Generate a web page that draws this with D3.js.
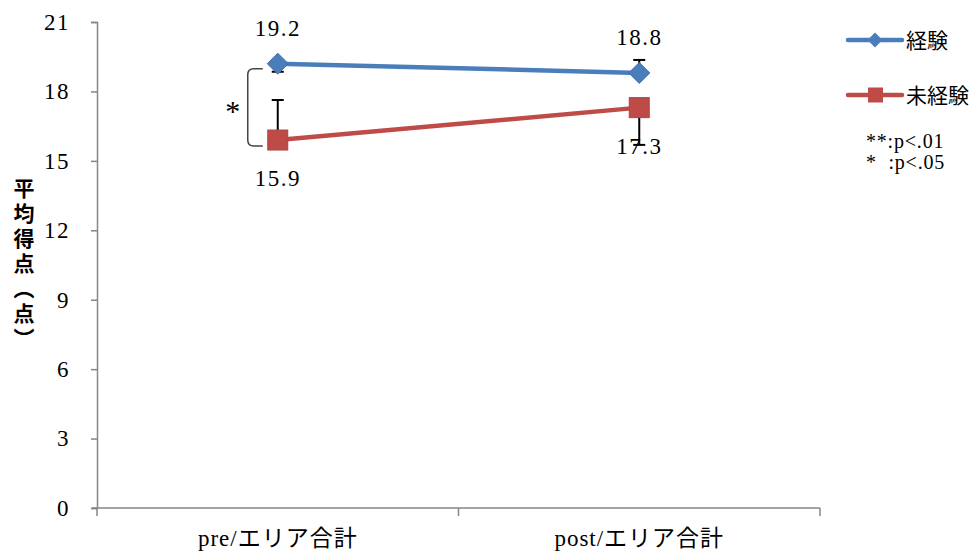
<!DOCTYPE html>
<html><head><meta charset="utf-8">
<script src="https://cdn.jsdelivr.net/npm/d3@7"></script>
<style>body{margin:0;background:#fff}</style>
</head><body>
<svg id="c" width="979" height="554"></svg>
<script>
const categories = ["pre/エリア合計", "post/エリア合計"];
const seriesNames = ["経験", "未経験"];
const experienced = [19.2, 18.8];
const inexperienced = [15.9, 17.3];
// error bar end values (as drawn)
const experiencedErrEnd = [18.85, 19.36];
const inexperiencedErrEnd = [17.63, 15.69];
const yTicks = [0, 3, 6, 9, 12, 15, 18, 21];
const sigNotes = ["**:p<.01", "*  :p<.05"];

(function () {
const svg = d3.select("#c");
const serif = "'Liberation Serif', 'DejaVu Serif', serif";
const jp = "'Liberation Serif', 'Noto Sans CJK JP', serif";
const mLeft = 97, mRight = 820, mTop = 22, mBottom = 508;
const x = d3.scaleBand().domain(categories).range([mLeft, mRight]);
const y = d3.scaleLinear().domain([0, 21]).range([mBottom, mTop]);
const cx = d => x(d) + x.bandwidth() / 2;
const axisColor = "#868686";

// Y axis
const ya = svg.append("g").attr("transform", `translate(${mLeft},0)`)
  .call(d3.axisLeft(y).tickValues(yTicks).tickSize(6).tickPadding(21));
ya.select(".domain").attr("stroke", axisColor).attr("stroke-width", 1.5);
ya.selectAll(".tick line").attr("stroke", axisColor).attr("stroke-width", 1.5);
ya.selectAll(".tick text").attr("font-family", serif).attr("font-size", 23).attr("fill", "#000")
  .attr("letter-spacing", 1.5);

// X axis
const xa = svg.append("g").attr("transform", `translate(0,${mBottom})`)
  .call(d3.axisBottom(x).tickSize(0).tickPadding(22));
xa.select(".domain").attr("stroke", axisColor).attr("stroke-width", 1.5).attr("d", `M${mLeft-5},0H${mRight}`);
xa.selectAll(".tick text").attr("font-family", jp).attr("font-size", 23).attr("letter-spacing", 1).attr("fill", "#000");
const bounds = [mLeft, x(categories[1]), mRight];
xa.selectAll(".bt").data(bounds).enter().append("line")
  .attr("x1", d => d).attr("x2", d => d).attr("y1", 0).attr("y2", 8)
  .attr("stroke", axisColor).attr("stroke-width", 1.5);

// Y title (vertical)
svg.append("text").attr("x", 24).attr("y", 178)
  .attr("font-family", "'Noto Sans CJK JP', sans-serif").attr("font-weight", "bold")
  .attr("font-size", 21).attr("letter-spacing", 4)
  .style("writing-mode", "vertical-rl").style("text-orientation", "upright")
  .text("平均得点（点）");

// Error bars
function errBars(vals, ends) {
  const g = svg.append("g");
  vals.forEach((v, i) => {
    const px = cx(categories[i]);
    g.append("line").attr("x1", px).attr("x2", px).attr("y1", y(v)).attr("y2", y(ends[i]))
      .attr("stroke", "#000").attr("stroke-width", 2);
    g.append("line").attr("x1", px - 6).attr("x2", px + 6).attr("y1", y(ends[i])).attr("y2", y(ends[i]))
      .attr("stroke", "#000").attr("stroke-width", 2);
  });
}
errBars(experienced, experiencedErrEnd);
errBars(inexperienced, inexperiencedErrEnd);

const line = d3.line().x((d, i) => cx(categories[i])).y(d => y(d));
const blue = "#4A7EBB", red = "#BE4B48";

// Lines
svg.append("path").datum(experienced).attr("d", line).attr("fill", "none").attr("stroke", blue).attr("stroke-width", 4.5);
svg.append("path").datum(inexperienced).attr("d", line).attr("fill", "none").attr("stroke", red).attr("stroke-width", 4.5);

// Markers
const diamond = (px, py, r) => `M${px},${py-r}L${px+r},${py}L${px},${py+r}L${px-r},${py}Z`;
experienced.forEach((v, i) => {
  svg.append("path").attr("d", diamond(cx(categories[i]), y(v), 10.5)).attr("fill", blue).attr("stroke", "#3F6FA8").attr("stroke-width", 1);
});
inexperienced.forEach((v, i) => {
  svg.append("rect").attr("x", cx(categories[i]) - 10).attr("y", y(v) - 10).attr("width", 20).attr("height", 20)
    .attr("fill", red).attr("stroke", "#B04542").attr("stroke-width", 1);
});

// Data labels
const lblSize = 23;
experienced.forEach((v, i) => {
  svg.append("text").attr("x", cx(categories[i])).attr("y", y(v) - 36).attr("dy", "0.35em")
    .attr("text-anchor", "middle").attr("font-family", serif).attr("font-size", lblSize).attr("letter-spacing", 1.5).text(v.toFixed(1));
});
inexperienced.forEach((v, i) => {
  svg.append("text").attr("x", cx(categories[i])).attr("y", y(v) + 38).attr("dy", "0.35em")
    .attr("text-anchor", "middle").attr("font-family", serif).attr("font-size", lblSize).attr("letter-spacing", 1.5).text(v.toFixed(1));
});

// Significance bracket
const bx = cx(categories[0]) - 30, bTop = y(experienced[0]) + 5, bBot = y(inexperienced[0]) + 6, bEnd = cx(categories[0]) - 15;
svg.append("path")
  .attr("d", `M${bEnd},${bTop}H${bx+6}Q${bx},${bTop} ${bx},${bTop+6}V${bBot-6}Q${bx},${bBot} ${bx+6},${bBot}H${bEnd}`)
  .attr("fill", "none").attr("stroke", "#444").attr("stroke-width", 1.5);
svg.append("text").attr("x", bx - 15).attr("y", (bTop + bBot) / 2 + 14).attr("text-anchor", "middle")
  .attr("font-family", serif).attr("font-size", 30).text("*");

// Legend
const lg = svg.append("g");
const legendY = [40, 95];
seriesNames.forEach((n, i) => {
  const ly = legendY[i], col = i === 0 ? blue : red;
  lg.append("line").attr("x1", 848).attr("x2", 902).attr("y1", ly).attr("y2", ly)
    .attr("stroke", col).attr("stroke-width", 4.5).attr("stroke-linecap", "round");
  if (i === 0) lg.append("path").attr("d", diamond(875, ly, 7.5)).attr("fill", col);
  else lg.append("rect").attr("x", 868).attr("y", ly - 7.5).attr("width", 15).attr("height", 15).attr("fill", col);
  lg.append("text").attr("x", 906).attr("y", ly).attr("dy", "0.36em")
    .attr("font-family", "'Noto Sans CJK JP', sans-serif").attr("font-size", 21).text(n);
});
sigNotes.forEach((t, i) => {
  svg.append("text").attr("x", 866).attr("y", 148 + i * 21).attr("font-family", serif)
    .attr("font-size", 20).attr("letter-spacing", 0.8).attr("xml:space", "preserve").style("white-space", "pre").text(t);
});
})();
</script>
</body></html>
